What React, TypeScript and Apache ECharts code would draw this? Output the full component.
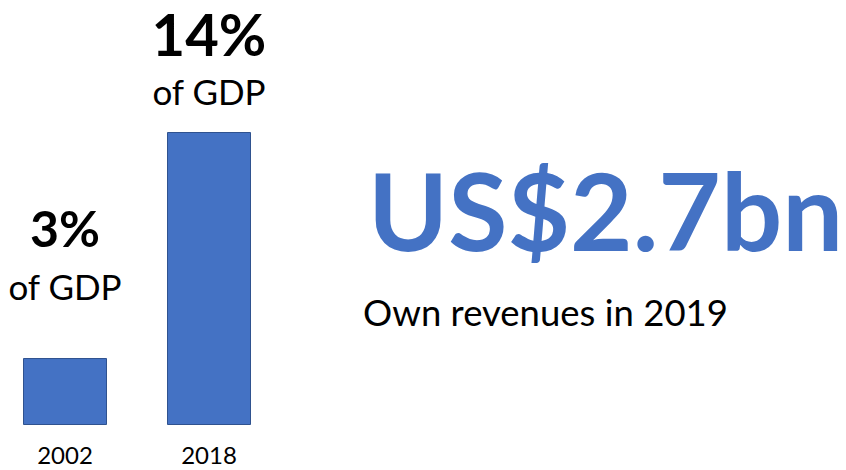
import React, { useEffect, useRef } from "react";
import * as echarts from "echarts";

const years = ["2002", "2018"];
const shareOfGdp = [3.2, 14];
const shareLabels = ["3%", "14%"];
const subLabel = "of GDP";
const headline = "US$2.7bn";
const headlineCaption = "Own revenues in 2019";

const BLUE = "#4472C4";
const FONT = "Lato, 'Open Sans', sans-serif";

export default function App() {
  const ref = useRef<HTMLDivElement>(null);
  useEffect(() => {
    if (!ref.current) return;
    const chart = echarts.init(ref.current, undefined, { renderer: "svg" });
    const labelDistances = [52, 6];
    const bigStyles = ["big3", "big14"];
    const subStyles = ["s3", "s14"];
    chart.setOption({
      animation: false,
      backgroundColor: "#ffffff",
      grid: { left: 65, right: 637, top: 132, bottom: 45 },
      xAxis: {
        type: "category",
        data: years,
        boundaryGap: false,
        axisLine: { show: false },
        axisTick: { show: false },
        axisLabel: { fontSize: 24, color: "#000", fontFamily: FONT, margin: 17 },
      },
      yAxis: { type: "value", min: 0, max: 14, show: false, splitLine: { show: false } },
      series: [
        {
          type: "bar",
          barWidth: 84,
          itemStyle: { color: BLUE, borderColor: "#2F528F", borderWidth: 1 },
          label: {
            show: true,
            position: "top",
            align: "center",
            rich: {
              big3: { fontSize: 50, fontWeight: "bold", color: "#000", fontFamily: FONT, lineHeight: 76, align: "center" },
              big14: { fontSize: 58, fontWeight: "bold", color: "#000", fontFamily: FONT, lineHeight: 45, align: "center" },
              s3: { fontSize: 35, color: "#000", fontFamily: FONT, lineHeight: 40, align: "center" },
              s14: { fontSize: 35, color: "#000", fontFamily: FONT, lineHeight: 70, align: "center" },
            },
          },
          data: shareOfGdp.map((v, i) => ({
            value: v,
            label: {
              distance: labelDistances[i],
              formatter: `{${bigStyles[i]}|${shareLabels[i]}}\n{${subStyles[i]}|${subLabel}}`,
            },
          })),
        },
      ],
      graphic: [
        {
          type: "text",
          left: 368,
          top: 155,
          style: { text: headline, fill: BLUE, font: `bold 108px ${FONT}` },
        },
        {
          type: "text",
          left: 363,
          top: 293,
          style: { text: headlineCaption, fill: "#000", font: `36.5px ${FONT}` },
        },
      ],
    });
    return () => chart.dispose();
  }, []);
  return <div ref={ref} style={{ position: "absolute", left: 0, top: 0, width: 846, height: 470 }} />;
}
